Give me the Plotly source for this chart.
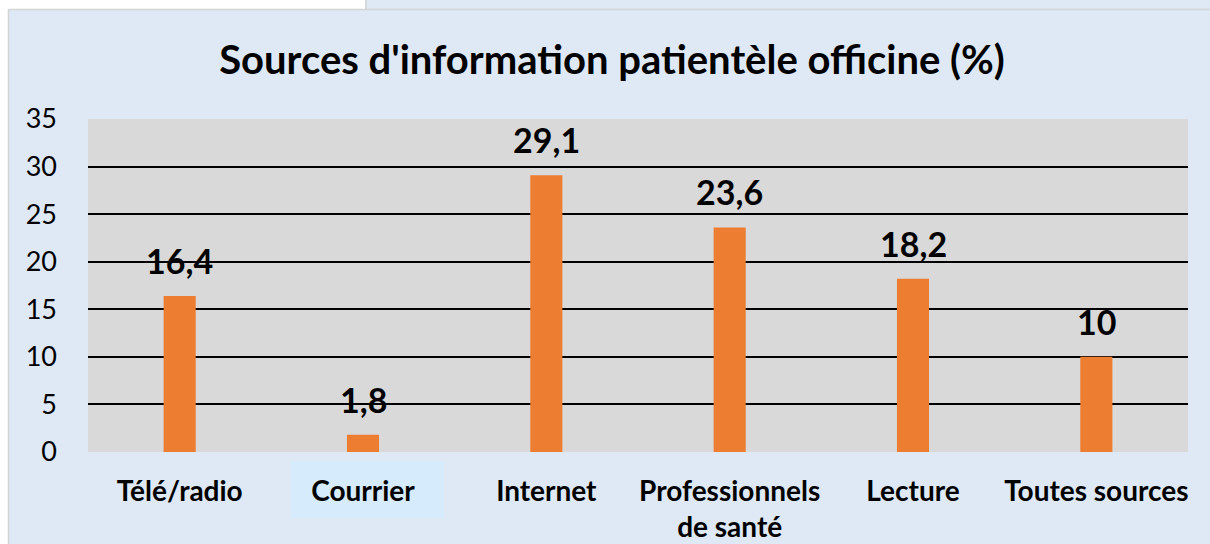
import plotly.graph_objects as go

categories = ["Télé/radio", "Courrier", "Internet", "Professionnels<br>de santé", "Lecture", "Toutes sources"]
values = [16.4, 1.8, 29.1, 23.6, 18.2, 10]
y_ticks = [0, 5, 10, 15, 20, 25, 30, 35]

W, H = 1210, 544
L, R, T, B = 88, 22, 119, 92
pw, ph = W - L - R, H - T - B

def px_x(x):
    return (x - L) / pw

def px_y(y):
    return 1 - (y - T) / ph

FONT = "Lato"
labels = [("%g" % v).replace(".", ",") for v in values]

fig = go.Figure()
fig.add_trace(go.Bar(
    x=categories, y=values, width=0.175,
    marker=dict(color="#ED7D31", line=dict(width=0)),
    hoverinfo="skip",
))

for c, v, t in zip(categories, values, labels):
    fig.add_annotation(x=c, y=v, text="<b>%s</b>" % t, showarrow=False,
                       yanchor="bottom", yshift=13,
                       font=dict(family=FONT, size=34, color="black"))

shapes = [
    dict(type="rect", xref="paper", yref="paper", x0=px_x(0), x1=px_x(365), y0=px_y(9), y1=px_y(0),
         fillcolor="white", line=dict(width=0), layer="below"),
    dict(type="rect", xref="paper", yref="paper", x0=px_x(0), x1=px_x(8), y0=px_y(544), y1=px_y(0),
         fillcolor="white", line=dict(width=0), layer="below"),
    dict(type="line", xref="paper", yref="paper", x0=px_x(8.5), x1=px_x(1210), y0=px_y(9.5), y1=px_y(9.5),
         line=dict(color="#D4D4D4", width=1.5), layer="below"),
    dict(type="line", xref="paper", yref="paper", x0=px_x(8.5), x1=px_x(8.5), y0=px_y(9.5), y1=px_y(544),
         line=dict(color="#D4D4D4", width=1.5), layer="below"),
    dict(type="line", xref="paper", yref="paper", x0=px_x(366), x1=px_x(366), y0=px_y(0), y1=px_y(9.5),
         line=dict(color="#D4D4D4", width=1.5), layer="below"),
    dict(type="rect", xref="paper", yref="paper", x0=px_x(291), x1=px_x(444), y0=px_y(518), y1=px_y(461),
         fillcolor="#D6EBFB", line=dict(width=0), layer="below"),
]

fig.update_layout(
    width=W, height=H,
    margin=dict(l=L, r=R, t=T, b=B, pad=0, autoexpand=False),
    paper_bgcolor="#DEE9F5",
    plot_bgcolor="#D9D9D9",
    showlegend=False,
    title=dict(text="<b>Sources d'information patientèle officine (%)</b>",
               x=px_x(612), xanchor="center", xref="paper", y=1 - 60 / H, yanchor="middle",
               font=dict(family=FONT, size=40, color="black")),
    font=dict(family=FONT, color="black"),
    shapes=shapes,
    xaxis=dict(showgrid=False, zeroline=False, showline=False, ticks="", automargin=False,
               tickfont=dict(family=FONT, size=28, color="black"),
               tickvals=categories, ticktext=["<b>%s</b>" % c for c in categories],
               ticklabelstandoff=20),
    yaxis=dict(range=[0, 35], tickvals=y_ticks, showgrid=True, gridcolor="black", gridwidth=2,
               zeroline=False, showline=False, ticks="", automargin=False,
               tickfont=dict(family=FONT, size=27, color="black"),
               ticklabelstandoff=30),
)

fig.write_html("out.html", config={"displayModeBar": False},
               post_script="document.body.style.margin='0px';document.body.style.padding='0px';")
